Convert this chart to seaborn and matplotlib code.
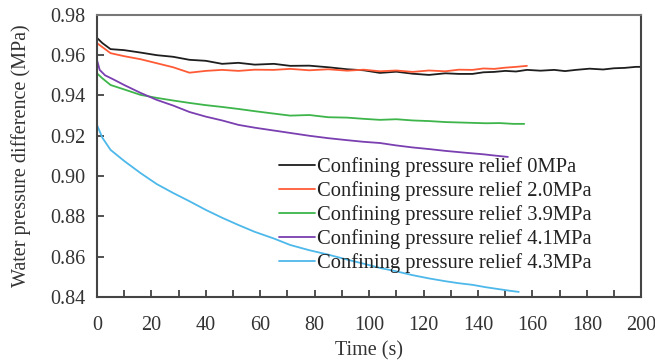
import matplotlib
matplotlib.use("Agg")
import matplotlib.pyplot as plt
import pandas as pd
import seaborn as sns

# values
t_0 = [0, 2, 5, 10, 16, 22, 28, 34, 40, 46, 52, 58, 65, 71, 78, 85, 92, 98, 104, 110, 116, 122, 128, 133, 138, 142, 146, 150, 154, 158, 163, 168, 172, 176, 181, 186, 190, 194, 198, 200]
p_0 = [0.9686, 0.966, 0.963, 0.9625, 0.9613, 0.960, 0.9592, 0.9577, 0.9572, 0.9557, 0.9562, 0.9553, 0.9557, 0.9547, 0.9548, 0.9540, 0.9530, 0.9525, 0.9512, 0.9518, 0.9508, 0.9502, 0.9510, 0.9507, 0.9507, 0.9515, 0.9517, 0.9522, 0.9519, 0.9527, 0.9523, 0.9527, 0.9521, 0.9527, 0.9533, 0.9529, 0.9535, 0.9537, 0.9542, 0.9542]
t_2 = [0, 2, 5, 10, 16, 22, 28, 34, 40, 46, 52, 58, 65, 71, 78, 85, 92, 98, 104, 110, 116, 122, 128, 133, 138, 142, 146, 150, 154, 158]
p_2 = [0.966, 0.964, 0.961, 0.9595, 0.958, 0.956, 0.954, 0.9513, 0.9522, 0.9527, 0.9522, 0.9528, 0.9527, 0.9532, 0.9525, 0.9530, 0.9523, 0.9528, 0.9520, 0.9524, 0.9517, 0.9524, 0.9520, 0.9528, 0.9527, 0.9534, 0.9532, 0.9538, 0.9542, 0.9547]
t_39 = [0, 2, 5, 10, 16, 22, 28, 34, 40, 46, 52, 58, 65, 71, 78, 85, 92, 98, 104, 110, 116, 122, 128, 133, 138, 143, 148, 153, 157]
p_39 = [0.951, 0.9485, 0.9452, 0.943, 0.9403, 0.9388, 0.9375, 0.9363, 0.9352, 0.9343, 0.9333, 0.9322, 0.9310, 0.9300, 0.9303, 0.9292, 0.9290, 0.9284, 0.9279, 0.9282, 0.9276, 0.9273, 0.9268, 0.9266, 0.9264, 0.9262, 0.9263, 0.9259, 0.9259]
t_41 = [0, 1, 3, 6, 10, 16, 22, 28, 34, 40, 46, 52, 58, 65, 71, 78, 85, 92, 98, 104, 110, 116, 122, 128, 136, 142, 146, 151]
p_41 = [0.9577, 0.9527, 0.950, 0.948, 0.9452, 0.9413, 0.9378, 0.935, 0.9318, 0.9295, 0.9276, 0.9254, 0.9240, 0.9226, 0.9214, 0.920, 0.9188, 0.9178, 0.9170, 0.9164, 0.9152, 0.9142, 0.9134, 0.9125, 0.9115, 0.9108, 0.9102, 0.9095]
t_43 = [0, 2, 5, 10, 16, 22, 28, 34, 40, 46, 52, 58, 65, 71, 78, 85, 92, 98, 104, 110, 116, 122, 128, 133, 138, 143, 148, 152, 155]
p_43 = [0.9254, 0.919, 0.913, 0.9075, 0.9015, 0.896, 0.8916, 0.8875, 0.8832, 0.8793, 0.8757, 0.8723, 0.869, 0.8658, 0.8632, 0.861, 0.8585, 0.8565, 0.8544, 0.8527, 0.8508, 0.8492, 0.8478, 0.8468, 0.846, 0.8448, 0.8438, 0.843, 0.8425]

labels = ["Confining pressure relief 0MPa", "Confining pressure relief 2.0MPa",
          "Confining pressure relief 3.9MPa", "Confining pressure relief 4.1MPa",
          "Confining pressure relief 4.3MPa"]
colors = ["#1e1e1e", "#ff5a36", "#3db54a", "#7a3fb0", "#4db8ea"]

series = [(t_0, p_0), (t_2, p_2), (t_39, p_39), (t_41, p_41), (t_43, p_43)]
frames = []
for lab, (t, p) in zip(labels, series):
    frames.append(pd.DataFrame({"Time": t, "Pressure": p, "Case": lab}))
df = pd.concat(frames, ignore_index=True)

sns.set_style("ticks")
plt.rcParams["font.family"] = ["Liberation Serif", "DejaVu Serif"]

fig = plt.figure(figsize=(6.55, 3.63), dpi=100)
ax = fig.add_axes([0.148, 0.182, 0.831, 0.777])

sns.lineplot(data=df, x="Time", y="Pressure", hue="Case", palette=colors,
             linewidth=1.3, ax=ax, sort=False, estimator=None)

ax.set_xlim(0, 200)
ax.set_ylim(0.84, 0.98)
ax.set_xticks(range(0, 201, 20))
ax.set_xticks(range(0, 201, 10), minor=True)
ax.set_yticks([0.84, 0.86, 0.88, 0.90, 0.92, 0.94, 0.96, 0.98])
ax.set_yticklabels(["0.84", "0.86", "0.88", "0.90", "0.92", "0.94", "0.96", "0.98"])
ax.tick_params(axis="both", which="both", direction="in", labelsize=14.5,
               colors="#333333", width=1.2)
ax.tick_params(axis="x", which="major", length=5, pad=14)
ax.tick_params(axis="x", which="minor", length=5)
ax.tick_params(axis="y", length=5, pad=8)
for s in ax.spines.values():
    s.set_color("#444444")
    s.set_linewidth(1.5)
ax.spines["top"].set_color("#777777")

ax.set_xlabel("Time (s)", fontsize=14.5, color="#333333", labelpad=4)
ax.set_ylabel("Water pressure difference (MPa)", fontsize=14.5, color="#333333", labelpad=14)

leg = ax.legend(loc="upper left", bbox_to_anchor=(0.32, 0.525), frameon=False,
                fontsize=14.8, handlelength=1.75, handletextpad=0.1,
                labelspacing=0.2, borderaxespad=0)
for txt in leg.get_texts():
    txt.set_color("#222222")

fig.savefig("out.png", dpi=100)
